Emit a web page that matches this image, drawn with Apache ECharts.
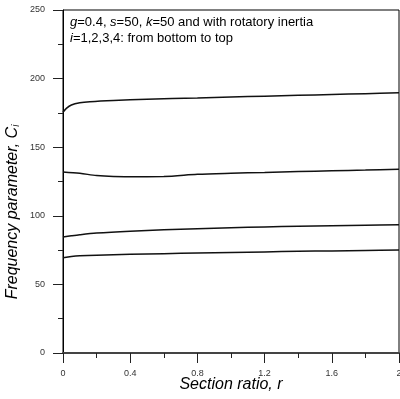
<!DOCTYPE html>
<html><head><meta charset="utf-8">
<script src="https://cdn.jsdelivr.net/npm/echarts@6/dist/echarts.min.js"></script>
<style>html,body{margin:0;padding:0;background:#fff}#c{width:400px;height:399px}</style>
</head><body><div id="c"></div>
<script>
var xTicks = ['0', '0.4', '0.8', '1.2', '1.6', '2'];
var yTicks = ['0', '50', '100', '150', '200', '250'];
var r1 = [0, 0.05, 0.1, 0.2, 0.4, 0.6, 0.8, 1.0, 1.2, 1.4, 1.6, 1.8, 2.0];
var c1 = [69.5, 70.3, 70.8, 71.3, 71.9, 72.4, 72.9, 73.3, 73.7, 74.1, 74.4, 74.7, 75.0];
var r2 = [0, 0.05, 0.1, 0.2, 0.4, 0.6, 0.8, 1.0, 1.2, 1.4, 1.6, 1.8, 2.0];
var c2 = [84.5, 85.4, 86.2, 87.4, 88.8, 89.8, 90.6, 91.3, 91.9, 92.4, 92.8, 93.1, 93.4];
var r3 = [0, 0.1, 0.2, 0.3, 0.4, 0.6, 0.8, 1.0, 1.2, 1.4, 1.6, 1.8, 2.0];
var c3 = [132.0, 131.0, 129.3, 128.6, 128.5, 128.6, 130.2, 131.0, 131.6, 132.2, 132.8, 133.3, 133.9];
var r4 = [0, 0.02, 0.05, 0.1, 0.16, 0.3, 0.5, 0.8, 1.0, 1.2, 1.4, 1.6, 1.8, 2.0];
var c4 = [175.5, 178.3, 180.8, 182.4, 183.2, 184.1, 184.9, 185.9, 186.6, 187.2, 187.8, 188.4, 189.0, 189.6];

function pairs(xs, ys) { return xs.map(function (x, i) { return [x, ys[i]]; }); }
function mk(xs, ys) {
  return { type: 'line', data: pairs(xs, ys), showSymbol: false, smooth: 0.3,
    lineStyle: { color: '#111', width: 1.5 }, silent: true };
}
var chart = echarts.init(document.getElementById('c'), null, { renderer: 'canvas' });
var FF = '"Liberation Sans", Arial, sans-serif';
chart.setOption({
  animation: false,
  grid: { left: 63, right: 1, top: 10, bottom: 46, containLabel: false, outerBoundsMode: 'none',
    show: true, borderColor: '#000', borderWidth: 1 },
  xAxis: {
    type: 'value', min: 0, max: 2, interval: 0.4,
    axisLine: { lineStyle: { color: '#444', width: 2 } },
    axisTick: { show: true, inside: false, length: 10, lineStyle: { color: '#222' } },
    minorTick: { show: true, splitNumber: 2, length: 5, lineStyle: { color: '#222' } },
    splitLine: { show: false },
    axisLabel: { margin: 16, fontSize: 9, color: '#333', fontFamily: FF,
      formatter: function (v) { return xTicks[Math.round(v / 0.4)]; } }
  },
  yAxis: {
    type: 'value', min: 0, max: 250, interval: 50,
    axisLine: { show: true, lineStyle: { color: '#000', width: 1 } },
    axisTick: { show: true, inside: false, length: 10, lineStyle: { color: '#222' } },
    minorTick: { show: true, splitNumber: 2, length: 5, lineStyle: { color: '#222' } },
    splitLine: { show: false },
    axisLabel: { margin: 18, fontSize: 9, color: '#333', fontFamily: FF,
      formatter: function (v) { return yTicks[Math.round(v / 50)]; } }
  },
  graphic: [
    { type: 'text', left: 70, top: 16, style: { text: '{i|g}=0.4, {i|s}=50, {i|k}=50 and with rotatory inertia',
      fontSize: 13, fontFamily: FF, fill: '#000',
      rich: { i: { fontStyle: 'italic', fontSize: 13, fontFamily: FF } } } },
    { type: 'text', left: 70, top: 32, style: { text: '{i|i}=1,2,3,4: from bottom to top',
      fontSize: 13, fontFamily: FF, fill: '#000',
      rich: { i: { fontStyle: 'italic', fontSize: 13, fontFamily: FF } } } },
    { type: 'text', x: 231, y: 385,
      style: { text: 'Section ratio, r', fontSize: 16, fontStyle: 'italic', fontFamily: FF, fill: '#000',
        align: 'center', verticalAlign: 'middle' } },
    { type: 'text', x: 13, y: 212, rotation: Math.PI / 2,
      style: { text: 'Frequency parameter, C{s|i}', fontSize: 16, fontStyle: 'italic', fontFamily: FF, fill: '#000',
        align: 'center', verticalAlign: 'middle',
        rich: { s: { fontSize: 10, fontStyle: 'italic', fontFamily: FF, verticalAlign: 'bottom', padding: [6, 0, 0, 0] } } } }
  ],
  series: [mk(r1, c1), mk(r2, c2), mk(r3, c3), mk(r4, c4)]
});
</script></body></html>
